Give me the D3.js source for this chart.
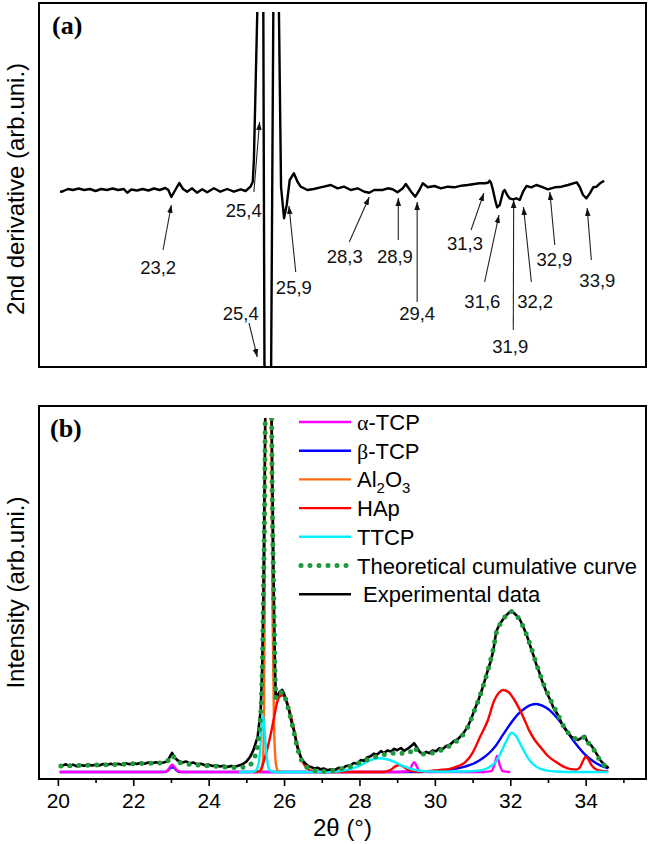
<!DOCTYPE html>
<html><head><meta charset="utf-8">
<script src="https://cdn.jsdelivr.net/npm/d3@7"></script>
<style>body{margin:0;background:#fff}svg{display:block}</style>
</head><body>
<script>
// ---------- DATA ----------
// Panel (a): 2nd derivative [2theta, value]
const secondDerivative = [[20.06,-0.1],[20.15,0.0],[20.27,0.2],[20.4,0.1],[20.55,0.25],[20.7,0.1],[20.85,0.2],[21.0,0.0],[21.15,0.2],[21.3,0.1],[21.45,0.25],[21.6,0.1],[21.75,0.2],[21.84,-0.17],[21.95,0.15],[22.1,0.05],[22.25,0.2],[22.4,0.05],[22.55,0.25],[22.7,0.1],[22.85,0.3],[22.93,0.1],[23.01,-0.6],[23.1,0.0],[23.22,0.8],[23.32,0.2],[23.43,-0.07],[23.56,0.27],[23.69,-0.17],[23.83,0.17],[23.96,-0.13],[24.14,0.27],[24.31,-0.07],[24.49,0.2],[24.67,-0.07],[24.85,0.17],[24.98,0.0],[25.11,0.43],[25.17,0.93],[25.2,3.1],[25.29,17.9],[25.31,40],[25.43,40],[25.45,17.9],[25.48,-17.6],[25.5,-50],[25.65,-50],[25.657,-17.6],[25.715,17.9],[25.73,49],[25.85,49],[25.864,17.9],[25.92,0.4],[26.0,-2.73],[26.07,-1.4],[26.15,1.1],[26.26,1.77],[26.36,0.9],[26.44,0.43],[26.62,0.1],[26.79,0.2],[26.97,0.37],[27.24,0.6],[27.42,0.27],[27.59,0.43],[27.77,0.1],[27.95,0.27],[28.13,-0.07],[28.26,-0.17],[28.39,0.1],[28.61,0.1],[28.75,0.27],[28.88,0.17],[29.01,-0.13],[29.15,0.27],[29.23,0.7],[29.37,-0.07],[29.48,-0.57],[29.59,0.1],[29.68,0.77],[29.81,0.37],[29.99,0.5],[30.16,0.27],[30.34,0.43],[30.52,0.37],[30.7,0.53],[30.87,0.6],[31.05,0.7],[31.18,0.77],[31.32,0.77],[31.41,0.83],[31.45,1.03],[31.49,0.83],[31.54,0.1],[31.6,-0.9],[31.65,-1.63],[31.72,-1.4],[31.81,-0.07],[31.85,0.1],[31.92,-0.4],[31.98,-0.73],[32.07,-0.83],[32.16,-0.73],[32.25,-0.9],[32.34,-0.07],[32.43,0.5],[32.56,0.37],[32.69,0.6],[32.82,0.43],[33.0,0.17],[33.18,0.37],[33.36,0.43],[33.53,0.6],[33.76,0.87],[33.84,0.43],[33.93,-0.4],[34.02,-0.73],[34.11,-0.23],[34.2,0.37],[34.29,0.43],[34.38,0.77],[34.49,1.03]];

// Panel (a) annotations: label, text position, arrow tail, arrow tip (data coords)
const annotLabels = ["23,2","25,4","25,9","25,4","28,3","28,9","29,4","31,3","31,6","31,9","32,2","32,9","33,9"];
const annotText = [[22.66,-8.3],[24.93,-2.6],[26.26,-10.3],[24.85,-12.9],[27.61,-7.2],[28.94,-7.2],[29.53,-12.9],[30.8,-5.9],[31.26,-11.7],[32.0,-16.2],[32.66,-11.7],[33.17,-7.5],[34.31,-9.6]];
const annotTail = [[22.79,-5.9],[25.2,-0.1],[26.31,-8.1],[25.07,-13.2],[27.73,-5.1],[29.03,-4.9],[29.53,-11.1],[30.96,-3.9],[31.32,-9.1],[32.08,-13.9],[32.56,-9.1],[33.18,-5.4],[34.15,-6.9]];
const annotTip = [[23.01,-1.4],[25.35,6.9],[26.13,-1.5],[25.29,-16.6],[28.26,-0.6],[29.03,-0.7],[29.53,-1.1],[31.3,-0.2],[31.7,-2.4],[32.09,-0.9],[32.35,-1.6],[33.05,-0.1],[34.04,-1.7]];

// Panel (b): experimental intensity [2theta, intensity]
const experimental = [[20.08,3.5],[20.2,4.8],[20.3,3.8],[20.4,4.6],[20.5,3.6],[20.6,4.4],[20.7,3.9],[20.8,4.7],[20.9,4.0],[21.0,4.5],[21.1,4.1],[21.2,5.0],[21.3,4.3],[21.4,5.1],[21.5,4.4],[21.6,5.2],[21.7,4.6],[21.8,5.4],[21.9,4.8],[22.0,5.6],[22.1,5.0],[22.2,5.8],[22.3,5.2],[22.4,6.0],[22.5,5.4],[22.6,6.1],[22.7,5.5],[22.8,6.0],[22.9,6.6],[22.97,9.5],[23.03,12.0],[23.1,9.0],[23.18,7.2],[23.3,6.0],[23.4,6.6],[23.5,5.4],[23.6,5.9],[23.7,4.8],[23.8,5.2],[23.9,4.2],[24.0,4.6],[24.1,3.8],[24.2,4.2],[24.3,3.4],[24.4,3.9],[24.5,3.2],[24.6,3.8],[24.7,3.3],[24.8,4.0],[24.9,4.8],[25.0,6.5],[25.1,9.5],[25.19,13.8],[25.3,22],[25.38,38.8],[25.42,65.8],[25.45,107.5],[25.5,221],[25.55,600],[25.6,900],[25.64,600],[25.67,221],[25.73,107.5],[25.76,65],[25.78,47],[25.83,48],[25.88,50],[25.95,51.3],[26.0,49],[26.05,45],[26.13,38.8],[26.2,31],[26.26,26],[26.35,15.8],[26.44,9.4],[26.5,7],[26.57,5.2],[26.65,3.6],[26.71,3.2],[26.8,2.2],[26.9,2.6],[26.97,1.7],[27.05,2.2],[27.15,1.2],[27.24,1.6],[27.35,1.4],[27.45,2.6],[27.55,2.2],[27.65,3.8],[27.77,4.2],[27.85,5.6],[27.95,5.2],[28.04,7.5],[28.12,7.0],[28.2,9.0],[28.3,9.8],[28.38,11.5],[28.46,10.8],[28.57,13],[28.65,11.8],[28.74,13.5],[28.84,12.8],[28.92,14.5],[29.0,13.6],[29.1,15],[29.18,13.2],[29.27,14.4],[29.37,16.2],[29.45,18],[29.52,15.5],[29.6,12.5],[29.69,11.0],[29.77,12.6],[29.85,11.8],[29.94,13.4],[30.03,13.0],[30.12,14.8],[30.2,14.2],[30.3,16.2],[30.4,17.0],[30.5,19.2],[30.61,20.5],[30.75,24],[30.87,28.3],[30.96,33],[31.05,38.8],[31.14,44],[31.23,50],[31.32,57],[31.41,64],[31.49,70],[31.55,76],[31.63,88],[31.72,92.5],[31.81,95.5],[31.9,98],[31.96,99.5],[32.02,100.5],[32.09,99.5],[32.16,98],[32.25,95.5],[32.34,91],[32.43,86],[32.52,79.5],[32.6,74],[32.68,68],[32.76,63],[32.85,56.5],[32.95,50.5],[33.05,45.5],[33.15,40],[33.27,35.5],[33.36,30.5],[33.44,27.3],[33.53,24.5],[33.62,22],[33.7,21],[33.8,20],[33.9,21.5],[33.98,22.5],[34.03,19.5],[34.08,18],[34.14,16.8],[34.2,14.8],[34.3,11],[34.4,7],[34.5,4.5],[34.61,2.5]];

const theoretical = [[20.08,3.8],[20.4,4.0],[20.8,4.2],[21.2,4.5],[21.6,4.8],[22.0,5.1],[22.4,5.4],[22.7,5.6],[22.88,6.2],[22.96,8.5],[23.03,10.5],[23.1,8.5],[23.18,6.5],[23.3,5.4],[23.6,4.6],[24.0,3.9],[24.4,3.2],[24.7,2.8],[24.95,3.0],[25.1,4.5],[25.2,8],[25.3,17],[25.38,36],[25.42,62],[25.45,107],[25.5,221],[25.53,500],[25.58,900],[25.63,500],[25.67,221],[25.73,105],[25.76,62],[25.79,46],[25.85,47],[25.95,50],[26.05,45],[26.13,38],[26.26,25],[26.35,15.5],[26.44,8.5],[26.57,3.8],[26.7,1.6],[26.9,0.6],[27.1,0.4],[27.3,0.8],[27.5,1.8],[27.77,3.6],[28.04,6.2],[28.3,8.6],[28.57,10.5],[28.84,11.5],[29.02,12.3],[29.2,11.5],[29.35,12.5],[29.45,15.5],[29.55,12.5],[29.7,11.2],[29.85,11.6],[30.03,12.5],[30.25,14.5],[30.45,17.2],[30.61,20],[30.75,23.5],[30.87,28],[31.05,38.5],[31.23,50],[31.41,64],[31.55,77],[31.63,87],[31.72,92],[31.81,95.5],[31.9,98],[32.02,100.3],[32.16,98],[32.34,91],[32.52,80],[32.68,68.5],[32.85,57],[33.05,46],[33.27,35.5],[33.44,27.5],[33.62,22.5],[33.8,20.5],[33.92,21.5],[33.99,22],[34.08,18],[34.2,14.5],[34.3,10.5],[34.4,6.5],[34.5,4],[34.6,2]];

const alphaTCP = [[20.05,0],[22.8,0],[22.9,0.8],[22.97,3.0],[23.03,4.5],[23.1,3.0],[23.17,0.8],[23.3,0],[29.0,0],[29.3,0.5],[29.38,3.5],[29.45,6.2],[29.52,3.5],[29.6,0.5],[29.8,0],[31.3,0],[31.5,0.5],[31.58,4.5],[31.65,10],[31.72,4.5],[31.8,0.5],[32.0,0]];
const betaTCP = [[20.05,0],[22.85,0],[22.93,1.2],[23.0,2.8],[23.07,2.8],[23.14,1.2],[23.22,0],[29.5,0],[29.9,0.4],[30.2,0.9],[30.5,1.8],[30.8,3.4],[31.0,5],[31.2,7.5],[31.4,11],[31.6,16],[31.8,23],[32.0,30],[32.2,36],[32.4,40],[32.55,42],[32.69,42.5],[32.85,41.5],[33.05,38.5],[33.25,33.5],[33.44,28],[33.6,22],[33.8,15.8],[34.0,10.5],[34.2,6.7],[34.4,4.0],[34.6,2.2]];
const al2o3 = [[25.2,0],[25.38,0.5],[25.42,3],[25.45,12],[25.48,80],[25.5,200],[25.53,450],[25.58,800],[25.63,450],[25.66,220],[25.7,90],[25.73,35],[25.76,12],[25.8,3],[25.85,0.5],[26.0,0]];
const hap = [[25.2,0],[25.35,0.5],[25.44,5],[25.55,14],[25.65,24],[25.75,36],[25.82,44],[25.9,47.5],[25.97,48],[26.05,45.5],[26.15,38],[26.25,28],[26.35,17],[26.45,9],[26.55,4],[26.7,1],[26.9,0],[28.6,0],[28.8,1],[28.95,3.5],[29.05,4.4],[29.15,3.5],[29.3,1.2],[29.5,0.3],[29.8,0.5],[30.1,1.2],[30.4,2],[30.6,3.5],[30.8,6],[31.0,12],[31.2,22],[31.4,32],[31.58,45],[31.7,49.5],[31.81,51.25],[31.95,50],[32.11,45],[32.25,39],[32.38,32.5],[32.5,26],[32.65,20],[32.82,15],[33.0,10],[33.2,6.5],[33.4,3.5],[33.6,1.8],[33.75,1.5],[33.85,3],[33.93,7],[34.0,9.5],[34.07,8],[34.15,4.5],[34.25,2],[34.4,0.8],[34.6,0.3]];
const ttcp = [[24.8,0],[25.2,0.3],[25.3,3],[25.36,12],[25.4,26],[25.44,35.5],[25.48,27],[25.53,12],[25.58,3.5],[25.65,0.5],[25.8,0],[27.2,0],[27.4,0.3],[27.7,1.5],[28.0,4],[28.25,7],[28.5,8.6],[28.75,7.8],[29.0,5.5],[29.2,3.3],[29.4,1.7],[29.6,0.8],[29.9,0.3],[30.2,0.2],[30.8,0.3],[31.2,1],[31.4,2.5],[31.6,6],[31.75,12],[31.9,19.5],[32.04,24.6],[32.15,22.5],[32.3,16],[32.45,9.5],[32.6,5],[32.75,2.5],[32.95,1],[33.2,0.3],[33.5,0],[34.6,0]];

const xMajorTicks = [20,22,24,26,28,30,32,34];
const xMinorTicks = [21,23,25,27,29,31,33,35];

const legendNames = ["α-TCP","β-TCP","Al2O3","HAp","TTCP","Theoretical cumulative curve","Experimental data"];
const legendColors = ["#ff00ff","#0000ff","#ff6a13","#ff0000","#00f0ff","#1f9a3c","#000000"];

// ---------- DRAWING ----------
const W = 649, H = 844;
const svg = d3.select("body").append("svg").attr("width", W).attr("height", H)
  .style("font-family", "Arial, 'Liberation Sans', sans-serif");

const L = 39, R = 646;
const aTop = 3, aBot = 367, bTop = 406, bBot = 779;

const x = d3.scaleLinear().domain([19.5, 35.6]).range([L, R]);
const yA = d3.scaleLinear().domain([-17.6, 17.9]).range([367, 12]);
const yB = d3.scaleLinear().domain([0, 100]).range([772, 612]);

const defs = svg.append("defs");
defs.append("clipPath").attr("id","clipA").append("rect").attr("x",L).attr("y",12).attr("width",R-L).attr("height",aBot-12);
defs.append("clipPath").attr("id","clipB").append("rect").attr("x",L).attr("y",418).attr("width",R-L).attr("height",bBot-418);
defs.append("marker").attr("id","arrow").attr("viewBox","0 0 10 10").attr("refX",10).attr("refY",5)
  .attr("markerWidth",8).attr("markerHeight",8).attr("markerUnits","userSpaceOnUse").attr("orient","auto")
  .append("path").attr("d","M0,1.5 L10,5 L0,8.5 Z").attr("fill","#111");

// ----- Panel (a)
const lineA = d3.line().x(d => x(d[0])).y(d => yA(d[1]));
svg.append("g").attr("clip-path","url(#clipA)")
  .append("path").datum(secondDerivative).attr("d", lineA)
  .attr("fill","none").attr("stroke","#000").attr("stroke-width",2.4).attr("stroke-linejoin","round");

const ann = svg.append("g");
annotLabels.forEach((lab, i) => {
  ann.append("line")
    .attr("x1", x(annotTail[i][0])).attr("y1", yA(annotTail[i][1]))
    .attr("x2", x(annotTip[i][0])).attr("y2", yA(annotTip[i][1]))
    .attr("stroke","#222").attr("stroke-width",1.1).attr("marker-end","url(#arrow)");
  ann.append("text").attr("x", x(annotText[i][0])).attr("y", yA(annotText[i][1]))
    .attr("text-anchor","middle").attr("font-size",18.5).attr("fill","#111").text(lab);
});

svg.append("rect").attr("x",L).attr("y",aTop).attr("width",R-L).attr("height",aBot-aTop)
  .attr("fill","none").attr("stroke","#000").attr("stroke-width",2);
svg.append("text").attr("x",52).attr("y",34).attr("font-family","'Times New Roman','Liberation Serif',serif")
  .attr("font-weight","bold").attr("font-size",26).text("(a)");
svg.append("text").attr("transform",`translate(24,${(aTop+aBot)/2+4}) rotate(-90)`)
  .attr("text-anchor","middle").attr("font-size",24).text("2nd derivative (arb.uni.)");

// ----- Panel (b)
const lineB = d3.line().x(d => x(d[0])).y(d => yB(d[1]));
const lineBs = d3.line().curve(d3.curveMonotoneX).x(d => x(d[0])).y(d => yB(d[1]));
const gB = svg.append("g").attr("clip-path","url(#clipB)");
const comps = [[betaTCP,1],[alphaTCP,0],[al2o3,2],[hap,3],[ttcp,4]];
comps.forEach(([data, ci]) => {
  gB.append("path").datum(data).attr("d", lineBs).attr("fill","none")
    .attr("stroke", legendColors[ci]).attr("stroke-width",2.4).attr("stroke-linejoin","round");
});
gB.append("path").datum(experimental).attr("d", lineB).attr("fill","none")
  .attr("stroke","#000").attr("stroke-width",2.6).attr("stroke-linejoin","round");
gB.append("path").datum(theoretical).attr("d", lineBs).attr("fill","none")
  .attr("stroke",legendColors[5]).attr("stroke-width",5).attr("stroke-linecap","round")
  .attr("stroke-dasharray","0 9");

svg.append("rect").attr("x",L).attr("y",bTop).attr("width",R-L).attr("height",bBot-bTop)
  .attr("fill","none").attr("stroke","#000").attr("stroke-width",2);

const axMaj = d3.axisBottom(x).tickValues(xMajorTicks).tickSize(7).tickPadding(7).tickFormat(d3.format("d"));
const axMin = d3.axisBottom(x).tickValues(xMinorTicks).tickSize(4).tickFormat("");
const gAx = svg.append("g").attr("transform",`translate(0,${bBot})`).call(axMaj);
gAx.select(".domain").remove();
gAx.selectAll("line").attr("stroke","#000").attr("stroke-width",1.6);
gAx.selectAll("text").attr("font-size",21).attr("fill","#000").style("font-family","Arial, 'Liberation Sans', sans-serif");
const gAx2 = svg.append("g").attr("transform",`translate(0,${bBot})`).call(axMin);
gAx2.select(".domain").remove();
gAx2.selectAll("line").attr("stroke","#000").attr("stroke-width",1.6);

svg.append("text").attr("x",(L+R)/2).attr("y",836).attr("text-anchor","middle").attr("font-size",24)
  .text("2θ (°)");
svg.append("text").attr("transform",`translate(24,${(bTop+bBot)/2}) rotate(-90)`)
  .attr("text-anchor","middle").attr("font-size",24).text("Intensity (arb.uni.)");
svg.append("text").attr("x",50).attr("y",437).attr("font-family","'Times New Roman','Liberation Serif',serif")
  .attr("font-weight","bold").attr("font-size",26).text("(b)");

// legend
const lg = svg.append("g");
legendNames.forEach((name, i) => {
  const yy = 422 + i * 28.7;
  const ln = lg.append("line").attr("x1",299).attr("x2",351).attr("y1",yy).attr("y2",yy)
    .attr("stroke",legendColors[i]).attr("stroke-width", i===5 ? 5 : 2.4);
  if (i===5) ln.attr("stroke-dasharray","0 9").attr("stroke-linecap","round").attr("x1",301);
  const t = lg.append("text").attr("x", i===6 ? 363 : 357).attr("y", yy+8).attr("font-size",22);
  if (i===0 || i===1) {
    t.append("tspan").attr("font-family","'Times New Roman','Liberation Serif',serif").text(name[0]);
    t.append("tspan").text(name.slice(1));
  } else if (name === "Al2O3") {
    t.append("tspan").text("Al");
    t.append("tspan").attr("font-size",15).attr("dy",6).text("2");
    t.append("tspan").attr("dy",-6).text("O");
    t.append("tspan").attr("font-size",15).attr("dy",6).text("3");
  } else {
    t.text(name);
  }
});
</script>
</body></html>
